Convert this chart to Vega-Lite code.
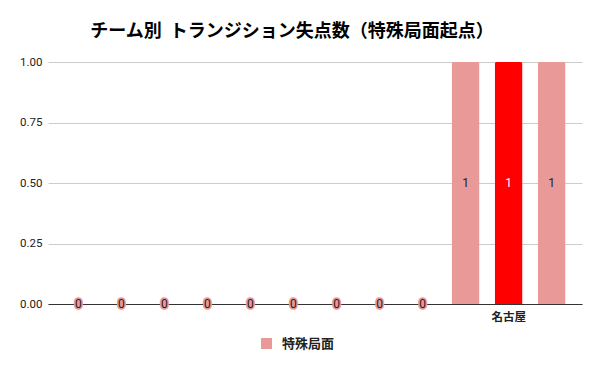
{
  "$schema": "https://vega.github.io/schema/vega-lite/v6.json",
  "autosize": {"type": "none"},
  "width": 534,
  "height": 242,
  "padding": {"left": 48, "top": 62, "right": 18, "bottom": 67},
  "background": "white",
  "config": {
    "font": "Roboto, Noto Sans CJK JP",
    "view": {"stroke": null}
  },
  "title": {
    "text": "チーム別\u00a0\u00a0トランジション失点数（特殊局面起点）",
    "font": "Noto Sans CJK JP",
    "fontSize": 18,
    "fontWeight": "bold",
    "color": "#000000",
    "anchor": "middle",
    "dx": -23,
    "offset": 15
  },
  "data": {
    "values": [
      {"team": " ", "series": "特殊局面", "value": 0},
      {"team": "  ", "series": "特殊局面", "value": 0},
      {"team": "   ", "series": "特殊局面", "value": 0},
      {"team": "    ", "series": "特殊局面", "value": 0},
      {"team": "     ", "series": "特殊局面", "value": 0},
      {"team": "      ", "series": "特殊局面", "value": 0},
      {"team": "       ", "series": "特殊局面", "value": 0},
      {"team": "        ", "series": "特殊局面", "value": 0},
      {"team": "         ", "series": "特殊局面", "value": 0},
      {"team": "          ", "series": "特殊局面", "value": 1},
      {"team": "名古屋", "series": "特殊局面", "value": 1},
      {"team": "           ", "series": "特殊局面", "value": 1}
    ]
  },
  "transform": [{"calculate": "datum.value / 2", "as": "mid"}],
  "encoding": {
    "x": {
      "field": "team",
      "type": "nominal",
      "sort": null,
      "title": null,
      "scale": {"paddingInner": 0.35, "paddingOuter": 0.38},
      "axis": {
        "labelAngle": 0,
        "ticks": false,
        "domainColor": "#333333",
        "labelFont": "Noto Sans CJK JP",
        "labelFontSize": 11.5,
        "labelFontWeight": "bold",
        "labelColor": "#222222",
        "labelPadding": 7
      }
    }
  },
  "layer": [
    {
      "mark": {"type": "bar", "cornerRadiusTopLeft": 2, "cornerRadiusTopRight": 2},
      "encoding": {
        "y": {
          "field": "value",
          "type": "quantitative",
          "title": null,
          "scale": {"domain": [0, 1]},
          "axis": {
            "values": [0, 0.25, 0.5, 0.75, 1],
            "format": ".2f",
            "domain": false,
            "ticks": false,
            "gridColor": "#cccccc",
            "labelColor": "#222222",
            "labelFontSize": 11.5,
            "labelPadding": 6
          }
        },
        "color": {
          "condition": {"test": "datum.team === '名古屋'", "value": "#ff0000"},
          "field": "series",
          "type": "nominal",
          "scale": {"range": ["#ea9999"]},
          "legend": {
            "title": null,
            "orient": "none",
            "legendX": 212,
            "legendY": 275,
            "symbolType": "square",
            "symbolSize": 120,
            "symbolStrokeWidth": 0,
            "labelFont": "Noto Sans CJK JP",
            "labelFontSize": 13,
            "labelFontWeight": "bold",
            "labelColor": "#222222",
            "labelOffset": 9
          }
        }
      }
    },
    {
      "transform": [{"filter": "datum.value === 0"}],
      "mark": {"type": "text", "baseline": "middle", "fontSize": 12, "stroke": "#ea9999", "strokeWidth": 3.5, "fill": "#ea9999"},
      "encoding": {
        "y": {"field": "mid", "type": "quantitative"},
        "text": {"field": "value", "type": "quantitative"}
      }
    },
    {
      "mark": {"type": "text", "baseline": "middle", "fontSize": 12},
      "encoding": {
        "y": {"field": "mid", "type": "quantitative"},
        "text": {"field": "value", "type": "quantitative"},
        "color": {
          "condition": {"test": "datum.team === '名古屋'", "value": "#ffffff"},
          "value": "#222222"
        }
      }
    }
  ]
}
